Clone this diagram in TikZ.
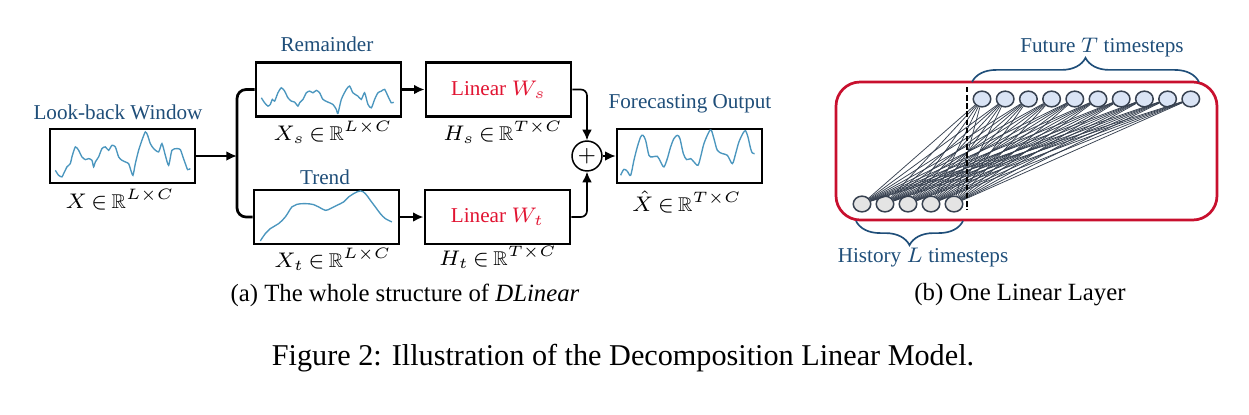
\documentclass[tikz,border=0pt]{standalone}
\usepackage{amsmath, amssymb}
\usepackage{xcolor}
\usepackage{fontspec}
\setmainfont{Liberation Serif}
\usetikzlibrary{arrows.meta, shapes.geometric, decorations.pathreplacing}

\definecolor{lblue}{RGB}{31,78,121}
\definecolor{lred}{RGB}{225,20,50}
\definecolor{boxred}{RGB}{200,16,46}
\definecolor{series}{RGB}{75,150,190}
\definecolor{edgegray}{RGB}{55,65,80}
\definecolor{futfill}{RGB}{218,228,245}
\definecolor{hisfill}{RGB}{228,228,228}

\newcommand\dimlbl[1]{$\thickmuskip=3mu #1$}

\tikzset{
  sigbox/.style={rectangle, draw, line width=0.9pt, minimum width=48pt, minimum height=17.9pt, inner sep=0pt},
  wave/.style={series, line width=0.45pt},
  conn/.style={line width=0.7pt, -{Latex[length=3.5pt,width=3.2pt]}},
  unit/.style={ellipse, draw=edgegray, line width=0.5pt, minimum width=5.8pt, minimum height=5.2pt, inner sep=0pt},
  edge/.style={edgegray, line width=0.25pt},
  lbl/.style={font=\fontsize{7}{8}\selectfont},
  dim/.style={font=\fontsize{6.6}{7.5}\selectfont, inner sep=1pt},
  sub/.style={font=\fontsize{8.2}{9.8}\selectfont},
  brc/.style={decorate, decoration={brace, amplitude=8pt}, lblue, line width=0.55pt}
}

\begin{document}
\begin{tikzpicture}[x=0.331pt, y=-0.331pt]
\useasboundingbox (0,0) rectangle (1249,415);

% (a) DLinear
\node[sigbox] (lb) at (122.5,156) {};
\node[sigbox] (rem) at (328.5,89.5) {};
\node[sigbox] (trd) at (326.5,217) {};
\node[sigbox, lred, draw=black, lbl] (lws) at (498.5,89.5) {Linear $W_s$};
\node[sigbox, lred, draw=black, lbl] (lwt) at (497.5,217) {Linear $W_t$};
\node[sigbox] (out) at (689.5,156) {};
\node[circle, draw, line width=0.5pt, minimum size=9.9pt, inner sep=0pt, font=\fontsize{7.5}{7.5}\selectfont] (plus) at (587,156) {$+$};
\coordinate (split) at (237,156);

\begin{scope}[shift={(lb.north west)}]
\draw[wave] plot[smooth, tension=0.4] coordinates {(6.7,42.7) (10,47.7) (13.3,49.3) (15,46) (16.7,42.7) (18.3,39.3) (21.7,36) (23.3,29.3) (26.7,19.3) (30,22.7) (33.3,29.3) (36.7,32) (40,31) (43.3,32.7) (45,39.3) (46.7,34.3) (50,29.3) (53.3,21) (56.7,19.3) (60,22.7) (63.3,17.7) (66.7,19.3) (70,29.3) (73.3,32.7) (76.7,34.3) (80,36) (81.7,41) (84.3,47.7) (86.7,36) (90,22.7) (93.3,12.7) (96.7,4.3) (99,7.7) (101.7,16) (105,21) (110,24.3) (113.3,16) (116.7,27.7) (120,37.7) (123.3,22.7) (128.3,21) (131.7,22) (134.3,29.3) (136.7,36) (139,42) (141.7,41)};
\end{scope}
\begin{scope}[shift={(rem.north west)}]
\draw[wave] plot[smooth, tension=0.4] coordinates {(6.7,36.7) (10,41.7) (13.3,45) (15.7,43.3) (17.7,38.3) (20,40) (23.3,31.7) (26.7,26.7) (30,30) (33.3,36.7) (36.7,40) (40,41) (43.3,45) (45,41.7) (48.3,38.3) (51.7,31.7) (55,30) (58.3,31.7) (61.7,29.3) (65,31.7) (68.3,38.3) (73.3,41) (78.3,43.3) (81.7,48.3) (83.3,52.3) (86.7,38.3) (91.7,28.3) (95,25) (98.3,31.7) (103.3,35) (106.7,38.3) (110,31.7) (113.3,43.3) (116.7,46.7) (120,38.3) (123.3,31.7) (126.7,30) (130,28.3) (133.3,35) (136.7,41.7) (139,41)};
\end{scope}
\begin{scope}[shift={(trd.north west)}]
\draw[wave] plot[smooth, tension=0.6] coordinates {(7.7,52.3) (12.7,45) (17.7,40) (26,35) (32.7,28.3) (39.3,18.3) (44.3,15.7) (52.7,15) (61,16) (66,18.3) (72.7,21.7) (77.7,20) (84.3,16.7) (91,13.3) (96,8.3) (101,5) (107.7,2.3) (112.7,5) (117.7,11.7) (122.7,18.3) (127.7,25) (132.7,30) (139.3,33.3)};
\end{scope}
\begin{scope}[shift={(out.north west)}]
\draw[wave] plot[smooth, tension=0.5] coordinates {(5,47.7) (8.3,41.7) (11.7,43.7) (15,47.7) (18.3,32.7) (21.7,19.3) (25,9.3) (27.3,7.7) (30,12.7) (33.3,27.7) (36.7,29.3) (41.7,28.7) (45,34.3) (48.3,39.3) (51.7,31) (55,19.3) (58.3,11) (61.7,7.7) (64.3,11) (67.7,26) (71,32) (75,31) (78.3,34.3) (82.3,37.7) (85,29.3) (88.3,16) (93.3,4.3) (95.7,2.7) (98.3,11) (101.7,22.7) (106.7,26) (111.7,27.7) (116.7,36) (120,26) (123.3,14.3) (127.7,5) (130,3.3) (132.3,9.3) (135,21) (136.7,25.3) (139,26)};
\end{scope}

\draw[conn] (lb) -- (split);
\draw[line width=0.9pt, rounded corners=3pt] (rem.west) -| (split) |- (trd.west);
\draw[conn] (rem) -- (lws);
\draw[conn] (trd) -- (lwt);
\draw[conn, line width=0.55pt, rounded corners=2pt] (lws.east) -| (plus.north);
\draw[conn, line width=0.55pt, rounded corners=2pt] (lwt.east) -| (plus.south);
\draw[conn, line width=0.55pt] (plus) -- (out);

\node[lbl, lblue] (lbtitle) at (118,112) {Look-back Window};
\node[dim] (lbdim) at (120,200) {\dimlbl{X\in\mathbb{R}^{L\times C}}};
\node[lbl, lblue] (remtitle) at (327,44) {Remainder};
\node[dim] (remdim) at (333,132) {\dimlbl{X_s\in\mathbb{R}^{L\times C}}};
\node[lbl, lblue] (trdtitle) at (325,177) {Trend};
\node[dim] (trddim) at (333,259) {\dimlbl{X_t\in\mathbb{R}^{L\times C}}};
\node[dim] (lwsdim) at (503,132) {\dimlbl{H_s\in\mathbb{R}^{T\times C}}};
\node[dim] (lwtdim) at (498,257) {\dimlbl{H_t\in\mathbb{R}^{T\times C}}};
\node[lbl, lblue] (outtitle) at (690,104) {Forecasting Output};
\node[dim] (outdim) at (687,202) {\dimlbl{\hat{X}\in\mathbb{R}^{T\times C}}};
\node[sub] (capa) at (405,295) {(a) The whole structure of \textit{DLinear}};

% (b) one linear layer
\draw[boxred, line width=0.9pt, rounded corners=8pt] (836,82) rectangle (1217,220);
\foreach \i in {0,...,9}
  \node[unit, fill=futfill] (f\i) at ({982+23.2*\i},99) {};
\foreach \i in {0,...,4}
  \node[unit, fill=hisfill] (h\i) at ({862+23*\i},204) {};
\foreach \i in {0,...,4}
  \foreach \j in {0,...,9}
    \draw[edge] (h\i) -- (f\j);
\draw[line width=0.9pt, dash pattern=on 1.8pt off 0.9pt] (967,87) -- (967,210);
\draw[brc] (972,82) -- (1199,82);
\draw[brc] (963,221) -- (856,221);
\node[lbl, lblue] (futtitle) at (1102,48) {Future $T$ timesteps};
\node[lbl, lblue] (histitle) at (923,258) {History $L$ timesteps};
\node[sub] (capb) at (1020,295) {(b) One Linear Layer};

\node[font=\fontsize{10}{12}\selectfont] (fig) at (623,358) {Figure 2: Illustration of the Decomposition Linear Model.};
\end{tikzpicture}
\end{document}
